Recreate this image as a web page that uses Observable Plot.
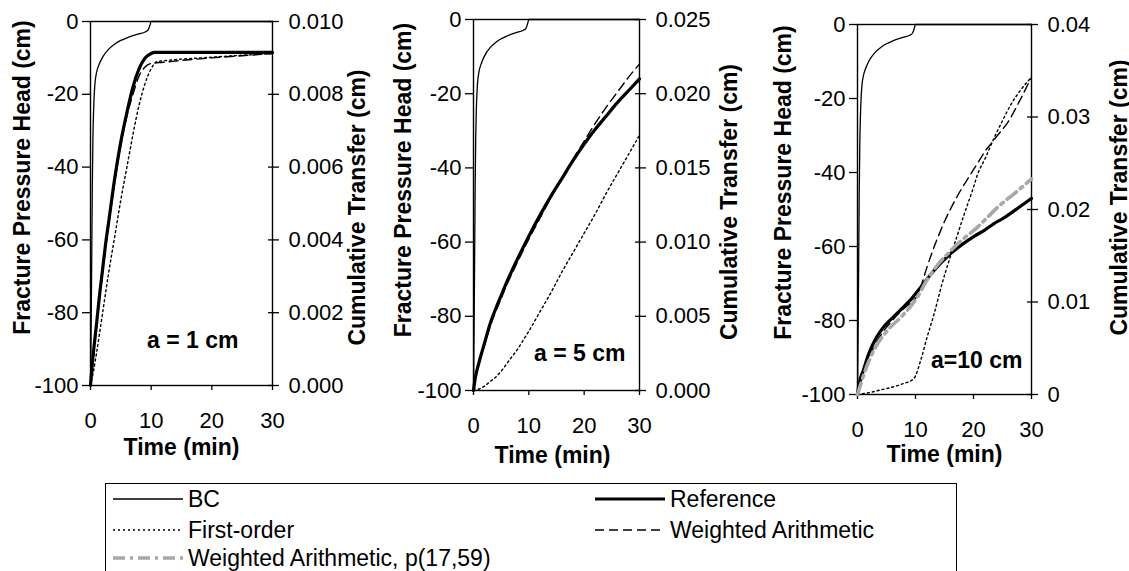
<!DOCTYPE html>
<html><head><meta charset="utf-8">
<script src="https://cdn.jsdelivr.net/npm/d3@7"></script>
<script src="https://cdn.jsdelivr.net/npm/@observablehq/plot@0.6"></script>
<style>
body{margin:0;background:#fff;}
#root{position:relative;width:1129px;height:571px;overflow:hidden;background:#fff;font-family:"Liberation Sans",Arial,sans-serif;}
#legend{position:absolute;border:1.3px solid #000;background:#fff;}
.li{position:absolute;font-size:23px;line-height:23px;white-space:nowrap;color:#000;}
</style></head><body><div id="root"></div>
<script>
// ---- tick values ----
const xTicks = [0, 10, 20, 30];
const headTicks = [-100, -80, -60, -40, -20, 0];
const p1RightTicks = [0, 0.002, 0.004, 0.006, 0.008, 0.010];
const p2RightTicks = [0, 0.005, 0.010, 0.015, 0.020, 0.025];
const p3RightTicks = [0, 0.01, 0.02, 0.03, 0.04];
const panelLabels = ["a = 1 cm", "a = 5 cm", "a=10 cm"];

// ---- BC (fracture pressure head, cm), same in every panel ----
const bcTime = [0, 0.1, 0.2, 0.3, 0.4, 0.5, 0.65, 0.8, 1.0, 1.5, 2, 3, 4, 5, 6, 7, 8, 9, 9.5, 9.8, 10, 30];
const bcHead = [-100, -85, -65, -45, -32, -25, -19, -16, -14, -11.5, -9.8, -7.6, -6.2, -5.2, -4.5, -3.9, -3.4, -2.9, -2.3, -1.0, 0, 0];

// ---- Panel 1 (a = 1 cm), cumulative transfer (cm) ----
const p1RefTime = [0, 0.3, 0.6, 1, 1.5, 2, 2.5, 3, 4, 5, 6, 7, 8, 9, 10, 10.5, 12, 20, 30];
const p1RefVal  = [0, 0.0006, 0.0011, 0.0017, 0.0025, 0.0032, 0.0039, 0.0045, 0.0057, 0.0067, 0.0075, 0.0082, 0.0087, 0.0090, 0.00912, 0.00915, 0.00915, 0.00915, 0.00915];
const p1FoTime  = [0, 0.5, 1, 2, 3, 4, 5, 6, 7, 8, 9, 10, 11, 12, 20, 30];
const p1FoVal   = [0, 0.0004, 0.0009, 0.0020, 0.0031, 0.0041, 0.0051, 0.0060, 0.0069, 0.0077, 0.0083, 0.0087, 0.0089, 0.00892, 0.00902, 0.00912];
const p1WaTime  = [0, 0.3, 0.6, 1, 1.5, 2, 2.5, 3, 4, 5, 6, 7, 8, 9, 10, 12, 15, 20, 25, 30];
const p1WaVal   = [0, 0.0005, 0.0010, 0.0016, 0.0024, 0.0031, 0.0038, 0.0044, 0.0056, 0.0066, 0.0074, 0.0080, 0.0085, 0.00875, 0.00885, 0.00888, 0.00893, 0.00900, 0.00906, 0.00912];

// ---- Panel 2 (a = 5 cm) ----
const p2Time   = [0, 0.3, 1, 2, 3, 4, 5, 6, 8, 10, 12, 14, 16, 18, 20, 22, 24, 26, 28, 30];
const p2RefVal = [0, 0.0008, 0.0019, 0.0032, 0.0045, 0.0055, 0.0064, 0.0073, 0.0089, 0.0104, 0.0118, 0.0131, 0.0143, 0.0155, 0.0166, 0.0176, 0.0185, 0.0194, 0.0202, 0.0210];
const p2WaVal  = [0, 0.0008, 0.0018, 0.0031, 0.0043, 0.0053, 0.0062, 0.0071, 0.0087, 0.0102, 0.0116, 0.0130, 0.0143, 0.0156, 0.0168, 0.0180, 0.0191, 0.0201, 0.0211, 0.0220];
const p2FoTime = [0, 1, 2, 3, 4, 5, 6, 7, 8, 9, 10, 12, 14, 16, 18, 20, 22, 24, 26, 28, 30];
const p2FoVal  = [0, 0.0001, 0.0003, 0.0006, 0.0009, 0.0013, 0.0018, 0.0023, 0.0028, 0.0034, 0.0040, 0.0053, 0.0066, 0.0080, 0.0093, 0.0106, 0.0119, 0.0133, 0.0146, 0.0159, 0.0172];

// ---- Panel 3 (a = 10 cm) ----
const p3RefTime = [0, 0.3, 1, 2, 3.3, 4.5, 6.2, 8, 9.1, 10.9, 13.2, 16, 18, 20.1, 22, 23.6, 25, 27.1, 30];
const p3RefVal  = [0, 0.0012, 0.0026, 0.0045, 0.0062, 0.0073, 0.0084, 0.0095, 0.0102, 0.0116, 0.0134, 0.0152, 0.0162, 0.0171, 0.0178, 0.0185, 0.0190, 0.0199, 0.0212];
const p3WapTime = [0, 0.5, 1, 2.1, 3, 5, 8, 10.3, 12, 13.8, 16, 17.8, 20.7, 22, 24.8, 27, 30];
const p3WapVal  = [0, 0.0010, 0.0020, 0.0038, 0.0050, 0.0068, 0.0087, 0.0105, 0.0124, 0.0140, 0.0155, 0.0166, 0.0181, 0.0189, 0.0206, 0.0217, 0.0233];
const p3WaTime  = [0, 0.5, 1, 2, 3, 4, 6, 8, 10, 10.5, 11, 12, 13, 14, 15, 16, 17, 18, 19, 20, 21, 22, 23, 24, 26, 28, 30];
const p3WaVal   = [0, 0.0011, 0.0023, 0.0040, 0.0053, 0.0064, 0.0080, 0.0093, 0.0104, 0.0108, 0.0118, 0.0138, 0.0156, 0.0172, 0.0187, 0.0200, 0.0212, 0.0223, 0.0233, 0.0243, 0.0253, 0.0263, 0.0271, 0.0279, 0.0295, 0.0318, 0.0343];
const p3FoTime  = [0, 2, 4, 6, 8, 9.7, 10.9, 12, 13.2, 14.5, 16, 17, 18.4, 20, 20.7, 22, 23.6, 25, 26.5, 28, 30];
const p3FoVal   = [0, 0.0002, 0.0005, 0.0008, 0.0012, 0.0017, 0.0037, 0.0062, 0.0087, 0.0118, 0.0149, 0.0168, 0.0195, 0.0224, 0.0238, 0.0255, 0.0278, 0.0296, 0.0314, 0.0328, 0.0343];

// ---- legend ----
const legendNames = ["BC", "Reference", "First-order", "Weighted Arithmetic", "Weighted Arithmetic, p(17,59)"];

// ---- styles ----
const S = {
  bc:  {stroke: "#000", strokeWidth: 1.3},
  ref: {stroke: "#000", strokeWidth: 3.2},
  fo:  {stroke: "#000", strokeWidth: 1.4, strokeDasharray: "2,3"},
  wa:  {stroke: "#000", strokeWidth: 1.4, strokeDasharray: "9,5"},
  wap: {stroke: "#a8a8a8", strokeWidth: 3.6, strokeDasharray: "12,5,3,5"}
};
const FONT = '"Liberation Sans", Arial, sans-serif';
const root = document.getElementById("root");

function pts(t, v, f) { return t.map((d, i) => ({t: d, h: f(v[i])})); }

function panel(cfg) {
  const ml = 120, mr = 120, mt = 12, mb = 90;
  const fw = cfg.frame[2] - cfg.frame[0], fh = cfg.frame[3] - cfg.frame[1];
  const toHead = v => -100 + v / cfg.tmax * 100;
  const rightPos = cfg.rticks.map(toHead);
  const fmtR = h => { const v = (h + 100) / 100 * cfg.tmax; return Math.abs(v) < 1e-12 ? cfg.zero : v.toFixed(cfg.digits); };
  const marks = [
    Plot.frame({stroke: "#000", strokeWidth: 1.4}),
    Plot.axisX({ticks: xTicks, tickSize: 5, tickPadding: 22, label: null, tickFormat: d => String(d), strokeWidth: 1.3, fontSize: 22}),
    Plot.axisY({ticks: headTicks, tickSize: 8, tickPadding: 4, label: null, tickFormat: d => String(d), strokeWidth: 1.3, fontSize: 22}),
    Plot.axisY({anchor: "right", ticks: rightPos, tickSize: 6, tickPadding: 10, label: null, tickFormat: fmtR, strokeWidth: 1.3, fontSize: 22}),
    Plot.axisY({anchor: "right", ticks: rightPos, tickSize: -5, tickPadding: 0, label: null, tickFormat: () => "", strokeWidth: 1.3}),
    Plot.line(pts(bcTime, bcHead, d => d), {x: "t", y: "h", curve: "monotone-x", ...S.bc})
  ];
  for (const s of cfg.series) {
    marks.push(Plot.line(pts(s.t, s.v, toHead), {x: "t", y: "h", curve: "monotone-x", ...S[s.style]}));
  }
  const tt = {fontWeight: "bold", fontSize: 23, textAnchor: "middle", lineAnchor: "middle"};
  marks.push(
    Plot.text([cfg.label], {frameAnchor: "bottom-right", textAnchor: "end", lineAnchor: "middle", dx: cfg.lab[0], dy: cfg.lab[1], fontWeight: "bold", fontSize: 23}),
    Plot.text(["Fracture Pressure Head (cm)"], {frameAnchor: "left", rotate: -90, dx: cfg.lt[0], dy: cfg.lt[1], ...tt}),
    Plot.text(["Cumulative Transfer (cm)"], {frameAnchor: "right", rotate: -90, dx: cfg.rt[0], dy: cfg.rt[1], ...tt}),
    Plot.text(["Time (min)"], {frameAnchor: "bottom", dx: cfg.bt[0], dy: cfg.bt[1], ...tt})
  );
  const p = Plot.plot({
    width: fw + ml + mr, height: fh + mt + mb,
    marginLeft: ml, marginRight: mr, marginTop: mt, marginBottom: mb,
    x: {domain: [0, 30]}, y: {domain: [-100, 0]},
    style: {background: "transparent", fontFamily: FONT, fontSize: "22px", overflow: "visible", color: "#000"},
    marks
  });
  p.style.position = "absolute";
  p.style.left = (cfg.frame[0] - ml) + "px";
  p.style.top = (cfg.frame[1] - mt) + "px";
  p.style.maxWidth = "none";
  root.appendChild(p);
}

panel({frame: [90, 21, 272, 385], tmax: 0.010, rticks: p1RightTicks, digits: 3, zero: "0.000", label: panelLabels[0],
  lab: [-34, -45], lt: [-68, -26], rt: [85, 4], bt: [0, 62],
  series: [
    {t: p1FoTime, v: p1FoVal, style: "fo"},
    {t: p1WaTime, v: p1WaVal, style: "wa"},
    {t: p1RefTime, v: p1RefVal, style: "ref"}
  ]});
panel({frame: [473, 19, 639, 390], tmax: 0.025, rticks: p2RightTicks, digits: 3, zero: "0.000", label: panelLabels[1],
  lab: [-14, -37], lt: [-70, -25], rt: [90, -3], bt: [-4, 65],
  series: [
    {t: p2FoTime, v: p2FoVal, style: "fo"},
    {t: p2Time, v: p2WaVal, style: "wa"},
    {t: p2Time, v: p2RefVal, style: "ref"}
  ]});
panel({frame: [857, 24, 1031, 394], tmax: 0.04, rticks: p3RightTicks, digits: 2, zero: "0", label: panelLabels[2],
  lab: [-9, -34], lt: [-74, -27], rt: [88, -12], bt: [0, 60],
  series: [
    {t: p3FoTime, v: p3FoVal, style: "fo"},
    {t: p3WaTime, v: p3WaVal, style: "wa"},
    {t: p3RefTime, v: p3RefVal, style: "ref"},
    {t: p3WapTime, v: p3WapVal, style: "wap"}
  ]});

// ---- legend (below the charts) ----
const box = document.createElement("div");
box.id = "legend";
Object.assign(box.style, {left: "105px", top: "483px", width: "850px", height: "120px"});
root.appendChild(box);
const legendItems = [
  {name: legendNames[0], style: "bc",  x: 113, y: 499},
  {name: legendNames[1], style: "ref", x: 595, y: 499},
  {name: legendNames[2], style: "fo",  x: 113, y: 530},
  {name: legendNames[3], style: "wa",  x: 595, y: 530},
  {name: legendNames[4], style: "wap", x: 113, y: 558}
];
for (const it of legendItems) {
  const s = S[it.style];
  const ns = "http://www.w3.org/2000/svg";
  const svg = document.createElementNS(ns, "svg");
  svg.setAttribute("width", 72); svg.setAttribute("height", 10);
  Object.assign(svg.style, {position: "absolute", left: it.x + "px", top: (it.y - 5) + "px", overflow: "visible"});
  const ln = document.createElementNS(ns, "line");
  ln.setAttribute("x1", 0); ln.setAttribute("x2", 70); ln.setAttribute("y1", 5); ln.setAttribute("y2", 5);
  ln.setAttribute("stroke", s.stroke); ln.setAttribute("stroke-width", s.strokeWidth);
  if (s.strokeDasharray) ln.setAttribute("stroke-dasharray", s.strokeDasharray);
  svg.appendChild(ln);
  root.appendChild(svg);
  const tx = document.createElement("div");
  tx.className = "li";
  tx.textContent = it.name;
  Object.assign(tx.style, {left: (it.x + 75) + "px", top: (it.y - 11.5) + "px"});
  root.appendChild(tx);
}
</script></body></html>
